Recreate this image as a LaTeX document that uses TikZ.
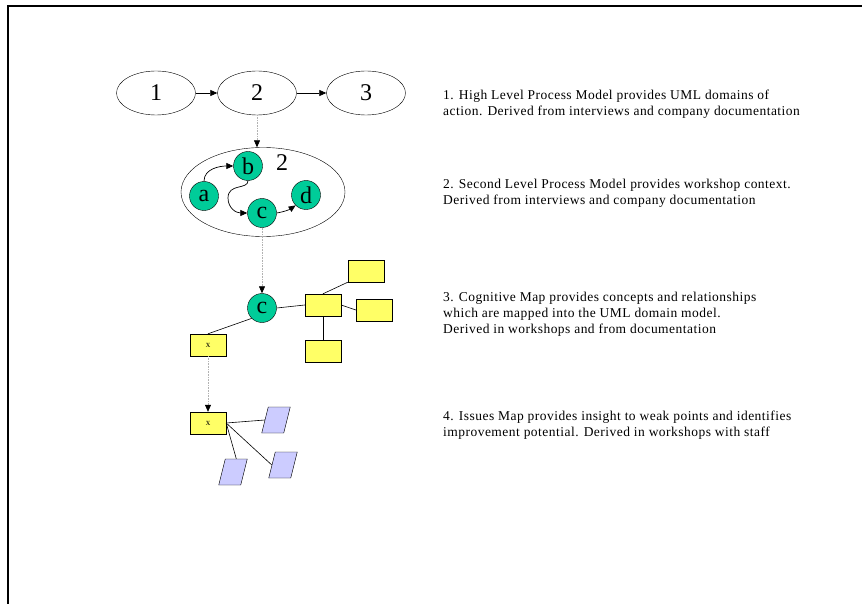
\documentclass[tikz,border=0pt]{standalone}
\usepackage{fontspec}
\setmainfont{Liberation Serif}
\newfontfamily\descfont[LetterSpace=3.5]{Liberation Serif}
\usetikzlibrary{arrows.meta,shapes.geometric}
\definecolor{tealc}{HTML}{00CC99}
\definecolor{yel}{HTML}{FFFF66}
\definecolor{lav}{HTML}{CCCCFF}
\tikzset{
  proc/.style={draw,ellipse,minimum width=79pt,minimum height=44pt,inner sep=0pt,font=\fontsize{24}{24}\selectfont},
  circ/.style={draw,circle,fill=tealc,minimum size=29pt,inner sep=0pt,font=\fontsize{24}{24}\selectfont},
  ybox/.style={draw,fill=yel,minimum width=36pt,minimum height=22pt,inner sep=0pt,font=\fontsize{9}{9}\selectfont},
  para/.style={draw,fill=lav,xslant=0.25,minimum width=22pt,minimum height=26pt,inner sep=0pt},
  arr/.style={-{Triangle[length=7pt,width=6pt]},line width=0.7pt},
  dotarr/.style={draw=gray!60,densely dotted,line width=0.6pt,-{Triangle[length=7pt,width=6pt,fill=black,color=black]}},
  lnk/.style={line width=0.6pt},
  desc/.style={anchor=north west,align=left,inner sep=0pt,font=\descfont\fontsize{13.5}{16}\selectfont}
}
\begin{document}
\begin{tikzpicture}[x=1pt,y=-1pt]
\useasboundingbox (0,0) rectangle (862,604);
\draw[line width=2pt] (7.5,604) -- (7.5,6.5) -- (862,6.5);
% level 1
\node[proc] (p1) at (156,93) {1};
\node[proc] (p2) at (257,93) {2};
\node[proc] (p3) at (366,93) {3};
\draw[arr] (p1) -- (p2);
\draw[arr] (p2) -- (p3);
% level 2
\node[draw,ellipse,minimum width=164pt,minimum height=89pt,inner sep=0pt] (big) at (263,192) {};
\node[font=\fontsize{24}{24}\selectfont] (two) at (282,163) {2};
\node[circ] (a) at (204,196) {a};
\node[circ] (b) at (248,166) {b};
\node[circ] (c) at (262,213) {c};
\node[circ] (d) at (306,195) {d};
\draw[arr] (a.north) to[out=90,in=180] (b.west);
\draw[arr] (b.south) .. controls (248,190) and (228,183) .. (228,198) .. controls (228,208) and (236,213) .. (c.west);
\draw[arr] (c.east) to[bend right=12] (d.south west);
\draw[dotarr] (p2.south) -- (p2.south |- big.north);
% level 3
\node[circ] (cc) at (262,308) {c};
\node[ybox] (r0) at (323,305) {};
\node[ybox] (r1) at (366,271) {};
\node[ybox] (r2) at (374,310) {};
\node[ybox] (r3) at (323,351) {};
\node[ybox] (x1) at (208,345) {x\hspace{12pt}};
\draw[dotarr] (c.south) -- (cc.north);
\draw[lnk] (cc.east) -- (r0.west);
\draw[lnk] (r0.north) -- (r1.south west);
\draw[lnk] (r0.east) -- (r2.west);
\draw[lnk] (r0.south) -- (r3.north);
\draw[lnk] (cc.south west) -- (x1.north);
% level 4
\node[ybox] (x2) at (208,423) {x\hspace{12pt}};
\node[para] (q1) at (276,420) {};
\node[para] (q2) at (283,465) {};
\node[para] (q3) at (233,472) {};
\draw[dotarr] (x1.south) -- (x2.north);
\draw[lnk] (x2.east) -- (q1.west);
\draw[lnk] (x2.east) -- (q2.west);
\draw[lnk] (x2.east) -- (q3.north);
% descriptions
\node[desc] (t1) at (443,90) {1. High Level Process Model provides UML domains of\\action. Derived from interviews and company documentation};
\node[desc] (t2) at (443,179) {2. Second Level Process Model provides workshop context.\\Derived from interviews and company documentation};
\node[desc] (t3) at (443,292) {3. Cognitive Map provides concepts and relationships\\which are mapped into the UML domain model.\\Derived in workshops and from documentation};
\node[desc] (t4) at (443,411) {4. Issues Map provides insight to weak points and identifies\\improvement potential. Derived in workshops with staff};
\end{tikzpicture}
\end{document}
